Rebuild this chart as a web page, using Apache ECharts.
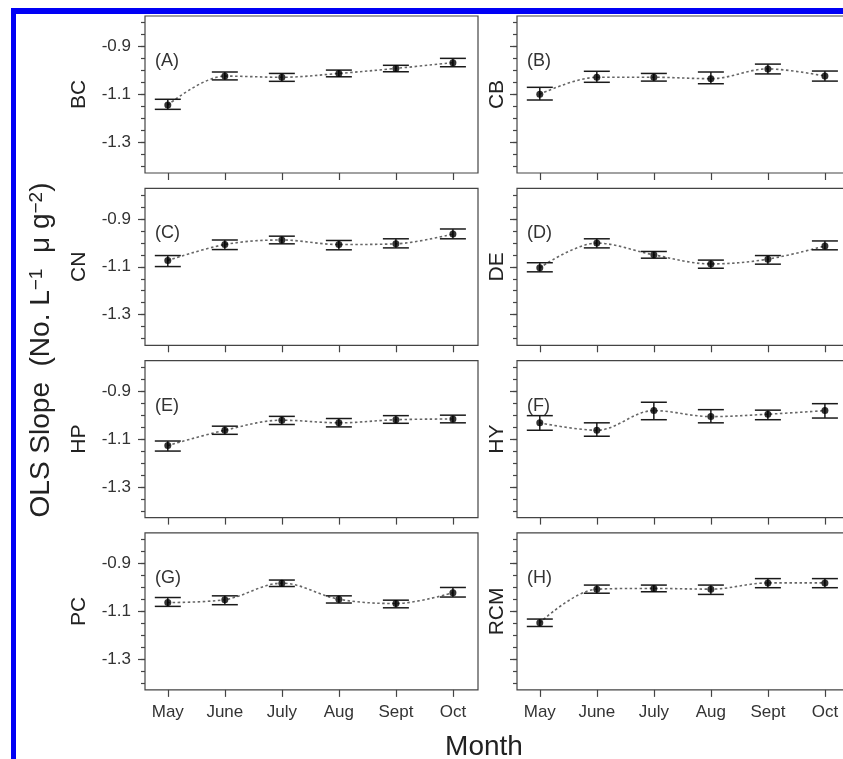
<!DOCTYPE html>
<html>
<head>
<meta charset="utf-8">
<script src="https://cdn.jsdelivr.net/npm/echarts@6.0.0/dist/echarts.min.js"></script>
<style>
  html, body { margin: 0; padding: 0; background: #fff; overflow: hidden; }
  #chart { position: absolute; left: 0; top: 0; width: 843px; height: 759px; }
  /* blue frame around the figure */
  #frame {
    position: absolute; left: 11px; top: 8px; width: 900px; height: 747px;
    border-top: 6px solid #0000f5; border-left: 5px solid #0000f5; border-bottom: 6px solid #0000f5;
    pointer-events: none;
  }
</style>
</head>
<body>
<div id="chart"></div>
<div id="frame"></div>
<script>
// categories / tick labels
const months = ['May', 'June', 'July', 'Aug', 'Sept', 'Oct']
const monthTicks = [1, 2, 3, 4, 5, 6]
const sites = ['BC', 'CB', 'CN', 'DE', 'HP', 'HY', 'PC', 'RCM']
const letters = ['(A)', '(B)', '(C)', '(D)', '(E)', '(F)', '(G)', '(H)']
const yMajorTicks = [-1.3, -1.1, -0.9]
const yMinorTicks = [-1.4, -1.35, -1.3, -1.25, -1.2, -1.15, -1.1, -1.05, -1.0, -0.95, -0.9, -0.85, -0.8]

// OLS slope mean and error bar ends, per site (May..Oct)
const meanBC = [-1.144, -1.023, -1.028, -1.012, -0.991, -0.967]
const lowBC = [-1.162, -1.039, -1.045, -1.026, -1.005, -0.984]
const highBC = [-1.120, -1.006, -1.012, -0.998, -0.978, -0.949]

const meanCB = [-1.099, -1.028, -1.028, -1.034, -0.993, -1.023]
const lowCB = [-1.123, -1.049, -1.044, -1.055, -1.014, -1.044]
const highCB = [-1.070, -1.003, -1.012, -1.006, -0.973, -1.002]

const meanCN = [-1.074, -1.007, -0.988, -1.007, -1.004, -0.963]
const lowCN = [-1.099, -1.028, -1.004, -1.029, -1.021, -0.983]
const highCN = [-1.053, -0.988, -0.972, -0.990, -0.983, -0.942]

const meanDE = [-1.104, -1.001, -1.050, -1.088, -1.068, -1.013]
const lowDE = [-1.121, -1.021, -1.064, -1.106, -1.089, -1.029]
const highDE = [-1.083, -0.983, -1.036, -1.072, -1.053, -0.992]

const meanHP = [-1.127, -1.063, -1.021, -1.032, -1.019, -1.016]
const lowHP = [-1.150, -1.080, -1.039, -1.049, -1.034, -1.032]
const highHP = [-1.108, -1.046, -1.005, -1.014, -1.002, -1.000]

const meanHY = [-1.032, -1.063, -0.981, -1.006, -0.996, -0.981]
const lowHY = [-1.063, -1.088, -1.019, -1.032, -1.019, -1.012]
const highHY = [-1.002, -1.032, -0.946, -0.977, -0.979, -0.952]

const meanPC = [-1.063, -1.051, -0.982, -1.049, -1.067, -1.022]
const lowPC = [-1.079, -1.072, -0.996, -1.065, -1.085, -1.040]
const highPC = [-1.042, -1.035, -0.969, -1.035, -1.053, -1.000]

const meanRCM = [-1.147, -1.007, -1.004, -1.007, -0.981, -0.981]
const lowRCM = [-1.163, -1.024, -1.018, -1.029, -1.001, -1.001]
const highRCM = [-1.132, -0.990, -0.990, -0.990, -0.963, -0.963]

const means = [meanBC, meanCB, meanCN, meanDE, meanHP, meanHY, meanPC, meanRCM]
const lows = [lowBC, lowCB, lowCN, lowDE, lowHP, lowHY, lowPC, lowRCM]
const highs = [highBC, highCB, highCN, highDE, highHP, highHY, highPC, highRCM]

const FONT = 'Liberation Sans, Arial, sans-serif'
const boxLeft = [145, 517]
const BOX_W = 333
const BOX_H = 157
const boxTop = (r) => 16 + r * 172.3

const grids = []
const xAxes = []
const yAxes = []
const series = []
const titles = []

function errorBar (params, api) {
  const x = api.value(0)
  const lo = api.coord([x, api.value(1)])
  const hi = api.coord([x, api.value(2)])
  const hw = 13
  const style = { stroke: '#1a1a1a', lineWidth: 1.5 }
  return {
    type: 'group',
    children: [
      { type: 'line', shape: { x1: lo[0], y1: lo[1], x2: hi[0], y2: hi[1] }, style },
      { type: 'line', shape: { x1: lo[0] - hw, y1: lo[1], x2: lo[0] + hw, y2: lo[1] }, style },
      { type: 'line', shape: { x1: hi[0] - hw, y1: hi[1], x2: hi[0] + hw, y2: hi[1] }, style }
    ]
  }
}

sites.forEach((site, i) => {
  const row = Math.floor(i / 2)
  const col = i % 2
  const top = boxTop(row)
  grids.push({
    left: boxLeft[col],
    top: top,
    width: BOX_W,
    height: BOX_H,
    outerBoundsMode: 'none',
    containLabel: false,
    show: true,
    borderColor: '#444',
    borderWidth: 1.2,
    backgroundColor: 'transparent'
  })
  xAxes.push({
    type: 'value',
    gridIndex: i,
    position: 'bottom',
    min: 0.6,
    max: 6.44,
    axisLine: { show: false },
    splitLine: { show: false },
    axisTick: { show: true, length: 7, customValues: monthTicks, lineStyle: { color: '#444', width: 1.2 } },
    axisLabel: {
      show: row === 3,
      customValues: monthTicks,
      formatter: (v) => months[Math.round(v) - 1],
      color: '#333',
      fontFamily: FONT,
      fontSize: 17,
      margin: 14
    }
  })
  // short ticks every 0.05
  yAxes.push({
    type: 'value',
    gridIndex: i,
    position: 'left',
    min: -1.428,
    max: -0.772,
    axisLine: { show: false },
    splitLine: { show: false },
    axisTick: { show: true, length: 4, customValues: yMinorTicks, lineStyle: { color: '#444', width: 1.2 } },
    axisLabel: { show: false }
  })
  // long ticks + labels
  yAxes.push({
    type: 'value',
    gridIndex: i,
    position: 'left',
    min: -1.428,
    max: -0.772,
    axisLine: { show: false },
    splitLine: { show: false },
    axisTick: { show: true, length: 7, customValues: yMajorTicks, lineStyle: { color: '#444', width: 1.2 } },
    axisLabel: {
      show: col === 0,
      customValues: yMajorTicks,
      formatter: (v) => v.toFixed(1),
      color: '#333',
      fontFamily: FONT,
      fontSize: 17,
      margin: 14
    },
    name: site,
    nameLocation: 'middle',
    nameGap: col === 0 ? 55 : 9,
    nameTextStyle: { color: '#222', fontFamily: FONT, fontSize: 21 }
  })
  titles.push({
    text: letters[i],
    left: boxLeft[col] + 10,
    top: top + 36,
    padding: 0,
    textStyle: { color: '#333', fontFamily: FONT, fontSize: 18, fontWeight: 'normal' }
  })

  const pts = monthTicks.map((m, k) => [m, means[i][k]])
  series.push({
    type: 'line',
    xAxisIndex: i,
    yAxisIndex: 2 * i + 1,
    data: pts,
    smooth: 0.35,
    showSymbol: false,
    lineStyle: { color: '#666', width: 1.6, type: [2.5, 2.5] },
    z: 2
  })
  series.push({
    type: 'custom',
    xAxisIndex: i,
    yAxisIndex: 2 * i + 1,
    renderItem: errorBar,
    data: monthTicks.map((m, k) => [m, lows[i][k], highs[i][k]]),
    encode: { x: 0, y: [1, 2] },
    z: 3
  })
  series.push({
    type: 'scatter',
    xAxisIndex: i,
    yAxisIndex: 2 * i + 1,
    data: pts,
    symbol: 'circle',
    symbolSize: 7,
    itemStyle: { color: '#000' },
    z: 4
  })
})

const myChart = echarts.init(document.getElementById('chart'), null, { renderer: 'canvas' })
myChart.setOption({
  animation: false,
  backgroundColor: '#fff',
  title: titles,
  grid: grids,
  xAxis: xAxes,
  yAxis: yAxes,
  series: series,
  graphic: [
    {
      type: 'text',
      x: 41,
      y: 350,
      rotation: Math.PI / 2,
      style: {
        text: '{m|OLS Slope  (No. L}{s|−1}{m|  μ g}{s|−2}{m|)}',
        align: 'center',
        verticalAlign: 'middle',
        fill: '#222',
        rich: {
          m: { fontFamily: FONT, fontSize: 28, fill: '#222' },
          s: { fontFamily: FONT, fontSize: 19, fill: '#222', verticalAlign: 'top' }
        }
      }
    },
    {
      type: 'text',
      x: 484,
      y: 733,
      style: {
        text: 'Month',
        align: 'center',
        verticalAlign: 'top',
        fill: '#222',
        fontFamily: FONT,
        fontSize: 28
      }
    }
  ]
})
</script>
</body>
</html>
